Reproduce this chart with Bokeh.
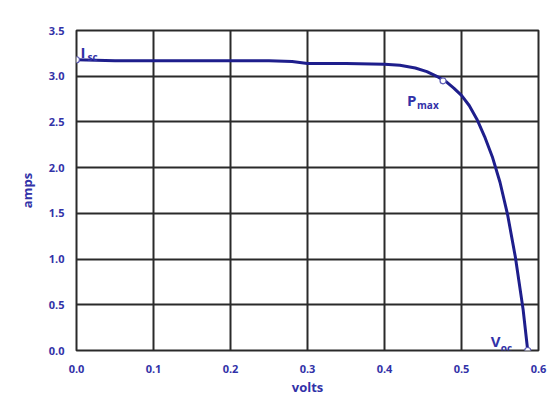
from bokeh.plotting import figure
from bokeh.models import ColumnDataSource, Range1d, FixedTicker
from bokeh.core.properties import value
from bokeh.embed import file_html
from bokeh.resources import INLINE

# I-V curve of a solar cell
volts = [0.0, 0.05, 0.10, 0.15, 0.20, 0.25, 0.28, 0.30, 0.35, 0.40, 0.42, 0.44,
         0.455, 0.47, 0.48, 0.49, 0.50, 0.51, 0.52, 0.53, 0.54, 0.55, 0.56,
         0.57, 0.58, 0.586]
amps = [3.18, 3.17, 3.17, 3.17, 3.17, 3.17, 3.16, 3.14, 3.14, 3.13, 3.12, 3.09,
        3.05, 2.99, 2.94, 2.87, 2.79, 2.68, 2.53, 2.34, 2.12, 1.84, 1.48,
        1.02, 0.45, 0.0]

# key points: Isc, Pmax, Voc
pt_names = ["I", "P", "V"]
pt_subs = ["sc", "max", "oc"]
pt_v = [0.0, 0.476, 0.586]
pt_i = [3.18, 2.95, 0.0]

x_ticks = [0.0, 0.1, 0.2, 0.3, 0.4, 0.5, 0.6]
y_ticks = [0.0, 0.5, 1.0, 1.5, 2.0, 2.5, 3.0, 3.5]

BLUE = "#1e1e8c"
TXT = "#3232a8"
FONT = "Open Sans"

p = figure(width=558, height=414, output_backend="svg", toolbar_location=None,
           x_range=Range1d(0, 0.6), y_range=Range1d(0, 3.5))
p.min_border_left = 76
p.min_border_right = 20
p.min_border_top = 30
p.min_border_bottom = 64
p.background_fill_color = "white"
p.border_fill_color = "white"
p.outline_line_color = "#2a2a2a"
p.outline_line_width = 2

for ax in (p.xaxis, p.yaxis):
    ax.axis_line_color = None
    ax.major_tick_line_color = None
    ax.minor_tick_line_color = None
    ax.major_label_text_color = TXT
    ax.major_label_text_font = FONT
    ax.major_label_text_font_style = "bold"
    ax.major_label_text_font_size = "11px"
    ax.axis_label_text_color = TXT
    ax.axis_label_text_font = FONT
    ax.axis_label_text_font_style = "bold"
    ax.axis_label_text_font_size = "13px"

p.xaxis.ticker = FixedTicker(ticks=x_ticks)
p.yaxis.ticker = FixedTicker(ticks=y_ticks)
p.xaxis.major_label_overrides = {t: f"{t:.1f}" for t in x_ticks}
p.yaxis.major_label_overrides = {t: f"{t:.1f}" for t in y_ticks}
p.xaxis.major_label_standoff = 8
p.yaxis.major_label_standoff = 6
p.xaxis.axis_label = "volts"
p.yaxis.axis_label = "amps"
p.xaxis.axis_label_standoff = 2
p.yaxis.axis_label_standoff = 10

p.xgrid.ticker = FixedTicker(ticks=x_ticks)
p.ygrid.ticker = FixedTicker(ticks=y_ticks)
for g in (p.xgrid, p.ygrid):
    g.grid_line_color = "#2a2a2a"
    g.grid_line_width = 2

src = ColumnDataSource(dict(v=volts, i=amps))
p.line("v", "i", source=src, line_color=BLUE, line_width=3)

pts = ColumnDataSource(dict(v=pt_v, i=pt_i, name=pt_names, sub=pt_subs,
                            nx=[4, -36, -37], ny=[-8, 19, -10],
                            sx=[11, -26, -27], sy=[-3, 24, -3]))
p.scatter("v", "i", source=pts, size=6, marker="circle",
          fill_color="white", line_color="#5a5ab4", line_width=1.2)
p.text("v", "i", text="name", source=pts, x_offset="nx", y_offset="ny",
       text_font=value(FONT), text_font_style="bold", text_font_size="15px",
       text_color=TXT, text_baseline="alphabetic", text_align="left")
p.text("v", "i", text="sub", source=pts, x_offset="sx", y_offset="sy",
       text_font=value(FONT), text_font_style="bold", text_font_size="10px",
       text_color=TXT, text_baseline="alphabetic", text_align="left")

open("out.html", "w").write(file_html(p, INLINE))
